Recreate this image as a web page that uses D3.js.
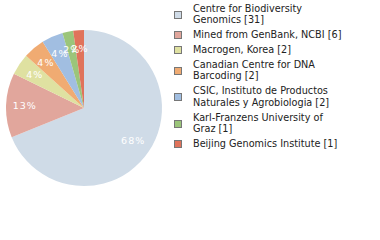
<!DOCTYPE html>
<html>
<head>
<meta charset="utf-8">
<script src="https://cdn.jsdelivr.net/npm/d3@7"></script>
<style>
  html, body { margin: 0; padding: 0; background: #fff; }
  svg { display: block; }
  .legend text { font-family: "DejaVu Sans", sans-serif; font-size: 9.7px; fill: #222; }
  .slice-label { font-family: "DejaVu Sans", sans-serif; font-size: 9.5px; fill: #fff; letter-spacing: 1px; }
</style>
</head>
<body>
<div id="chart"></div>
<script>
// data
const institutions = [
  ['Centre for Biodiversity', 'Genomics [31]'],
  ['Mined from GenBank, NCBI [6]'],
  ['Macrogen, Korea [2]'],
  ['Canadian Centre for DNA', 'Barcoding [2]'],
  ['CSIC, Instituto de Productos', 'Naturales y Agrobiologia [2]'],
  ['Karl-Franzens University of', 'Graz [1]'],
  ['Beijing Genomics Institute [1]']
];
const counts = [31, 6, 2, 2, 2, 1, 1];
const colors = ['#cfdbe7', '#e1a69c', '#dfe1a1', '#f0ab72', '#a1bee1', '#9bc57a', '#e0735b'];

const width = 380, height = 240;
const cx = 84, cy = 108, radius = 78;

const svg = d3.select('#chart').append('svg')
  .attr('width', width)
  .attr('height', height);

const total = d3.sum(counts);
const pie = d3.pie().sort(null).value(d => d);
const arcs = pie(counts);
const arc = d3.arc().innerRadius(0).outerRadius(radius);
const labelArc = d3.arc().innerRadius(radius * 0.76).outerRadius(radius * 0.76);

const g = svg.append('g').attr('transform', `translate(${cx},${cy})`);

g.selectAll('path')
  .data(arcs)
  .enter().append('path')
  .attr('d', arc)
  .attr('fill', (d, i) => colors[i]);

g.selectAll('text')
  .data(arcs)
  .enter().append('text')
  .attr('class', 'slice-label')
  .attr('transform', d => `translate(${labelArc.centroid(d)})`)
  .attr('text-anchor', 'middle')
  .attr('dy', '0.35em')
  .text(d => Math.floor(d.value / total * 100) + '%');

// legend
const lineH = 11.8, itemGap = 14.7;
const legend = svg.append('g').attr('class', 'legend');
let y = 8.3;
institutions.forEach((lines, i) => {
  const item = legend.append('g');
  const top = y;
  lines.forEach((ln, j) => {
    item.append('text')
      .attr('x', 193)
      .attr('y', y)
      .attr('dy', '0.35em')
      .text(ln);
    if (j < lines.length - 1) y += lineH;
  });
  const mid = (top + y) / 2;
  item.append('rect')
    .attr('x', 174.5)
    .attr('y', Math.round(mid - 3.5) + 0.5)
    .attr('width', 7)
    .attr('height', 7)
    .attr('fill', colors[i])
    .attr('stroke', '#777')
    .attr('stroke-width', 1);
  y += itemGap;
});
</script>
</body>
</html>
